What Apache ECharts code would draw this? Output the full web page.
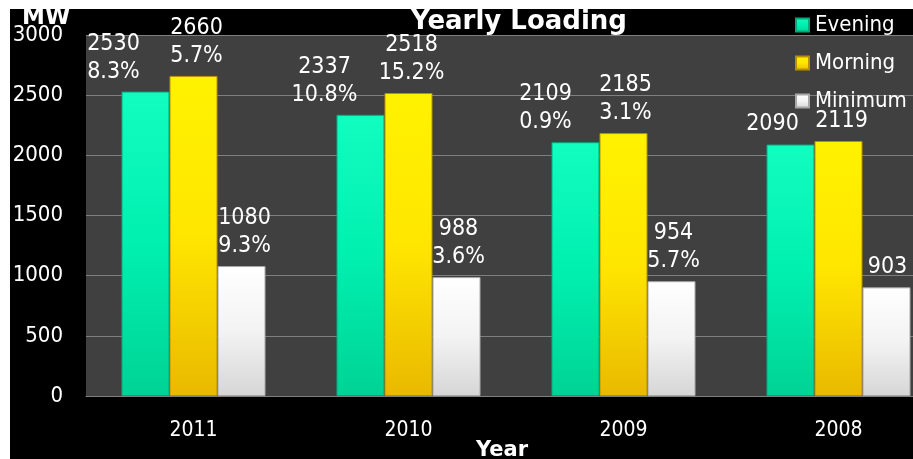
<!DOCTYPE html>
<html>
<head>
<meta charset="utf-8">
<script src="https://cdn.jsdelivr.net/npm/echarts@6/dist/echarts.min.js"></script>
<style>
html,body{margin:0;padding:0;background:#fff;}
#wrap{position:relative;width:913px;height:459px;overflow:hidden;}
#chart{position:absolute;left:0;top:0;width:960px;height:459px;background:#000;}
.wm{position:absolute;background:#fff;z-index:5;}
</style>
</head>
<body>
<div id="wrap">
<div id="chart"></div>
<div class="wm" style="left:0;top:0;width:10px;height:459px;"></div>
<div class="wm" style="left:0;top:0;width:913px;height:9px;"></div>
</div>
<script>
// ---- data ----
const categories = ['2011', '2010', '2009', '2008'];
const seriesNames = ['Evening', 'Morning', 'Minimum'];
const evening = [2530, 2337, 2109, 2090];
const morning = [2660, 2518, 2185, 2119];
const minimum = [1080, 988, 954, 903];
const eveningPct = ['8.3%', '10.8%', '0.9%', ''];
const morningPct = ['5.7%', '15.2%', '3.1%', ''];
const minimumPct = ['9.3%', '3.6%', '5.7%', ''];
const yTicks = [0, 500, 1000, 1500, 2000, 2500, 3000];

// ---- styles ----
const FONT = "'DejaVu Sans Condensed', 'DejaVu Sans', sans-serif";
const BOLD = "'DejaVu Sans', sans-serif";
const eveningLabelShift = [-32, -36, -30, -18];
const morningLabelShift = [3, 3, 2, 3];
const minimumLabelShift = [3, 2, 2, 1];

function grad(top, mid, bottom) {
  return new echarts.graphic.LinearGradient(0, 0, 0, 1, [
    {offset: 0, color: top}, {offset: 0.5, color: mid}, {offset: 1, color: bottom}
  ]);
}
const styles = [
  {fill: grad('#12fdc0', '#00f0b0', '#00d395'), border: '#00a97a'},
  {fill: grad('#fff200', '#ffe600', '#e9b900'), border: '#b98f00'},
  {fill: grad('#ffffff', '#f3f3f3', '#d6d6d6'), border: '#a8a8a8'}
];

function makeSeries(name, values, pcts, shifts, st) {
  return {
    name: name,
    type: 'bar',
    barGap: '0%',
    barCategoryGap: '33%',
    itemStyle: {color: st.fill, borderColor: st.border, borderWidth: 1},
    label: {
      show: true,
      position: 'top',
      distance: 6,
      color: '#fff',
      fontFamily: FONT,
      fontSize: 23,
      lineHeight: 28,
      formatter: p => pcts[p.dataIndex] ? p.value + '\n' + pcts[p.dataIndex] : String(p.value)
    },
    data: values.map((v, i) => ({value: v, label: {offset: [shifts[i], 0]}}))
  };
}

const chart = echarts.init(document.getElementById('chart'), null, {renderer: 'canvas'});
chart.setOption({
  backgroundColor: '#000',
  animation: false,
  title: {
    text: 'Yearly Loading',
    left: 411, top: 9, padding: 0,
    textStyle: {color: '#fff', fontFamily: BOLD, fontWeight: 'bold', fontSize: 26}
  },
  legend: {
    orient: 'vertical',
    left: 795, top: 14, padding: 0,
    itemWidth: 13, itemHeight: 13, itemGap: 16,
    icon: 'rect',
    data: seriesNames,
    textStyle: {color: '#fff', fontFamily: FONT, fontSize: 22, padding: [0, 0, 0, 1]}
  },
  grid: {
    left: 86, top: 35, width: 860, height: 361,
    show: true, backgroundColor: '#404040', borderWidth: 0
  },
  xAxis: {
    type: 'category',
    data: categories,
    axisTick: {show: false},
    axisLine: {lineStyle: {color: '#808080', width: 1}},
    axisLabel: {color: '#fff', fontFamily: FONT, fontSize: 21, margin: 24}
  },
  yAxis: {
    type: 'value',
    min: yTicks[0], max: yTicks[yTicks.length - 1], interval: 500,
    axisLine: {show: false},
    axisTick: {show: false},
    splitLine: {lineStyle: {color: '#7f7f7f', width: 1}},
    axisLabel: {color: '#fff', fontFamily: FONT, fontSize: 22, margin: 23, formatter: v => String(v)}
  },
  graphic: [
    {type: 'text', left: 22, top: 7, style: {text: 'MW', fill: '#fff', font: "bold 23px 'DejaVu Sans', sans-serif"}},
    {type: 'text', left: 476, top: 440, style: {text: 'Year', fill: '#fff', font: "bold 21px 'DejaVu Sans', sans-serif"}}
  ],
  series: [
    makeSeries(seriesNames[0], evening, eveningPct, eveningLabelShift, styles[0]),
    makeSeries(seriesNames[1], morning, morningPct, morningLabelShift, styles[1]),
    makeSeries(seriesNames[2], minimum, minimumPct, minimumLabelShift, styles[2])
  ]
});
</script>
</body>
</html>
